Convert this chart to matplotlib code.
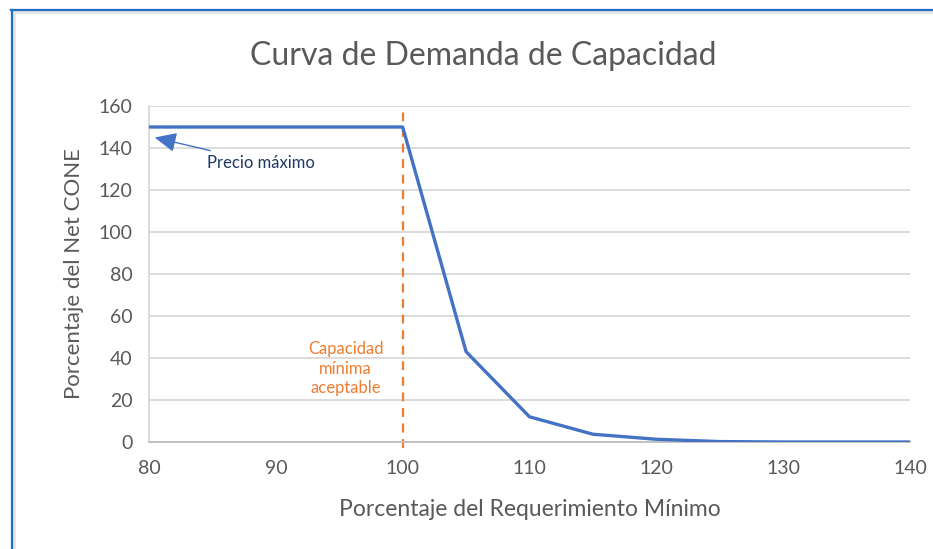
import matplotlib
matplotlib.use("Agg")
import matplotlib.pyplot as plt
from matplotlib.lines import Line2D

plt.rcParams["font.family"] = ["Lato", "DejaVu Sans"]

# Curva de demanda: % del requerimiento mínimo vs % del Net CONE
x_req = [80, 100, 105, 110, 115, 120, 125, 130, 135, 140]
y_cone = [150, 150, 43, 12, 3.7, 1.3, 0.2, 0, 0, 0]
x_ticks = [80, 90, 100, 110, 120, 130, 140]
y_ticks = [0, 20, 40, 60, 80, 100, 120, 140, 160]
cap_min = 100
precio_max = 150

gris = "#595959"
azul = "#4472C4"
naranja = "#ED7D31"

fig = plt.figure(figsize=(9.33, 5.49), dpi=100)
ax = fig.add_axes([149 / 933, 1 - 442 / 549, (910 - 149) / 933, (442 - 106) / 549])

ax.plot(x_req, y_cone, color=azul, linewidth=2.4, solid_joinstyle="round", zorder=3)
ax.plot([cap_min, cap_min], [-3, 160], color=naranja, linewidth=1.6,
        linestyle=(0, (4, 3)), clip_on=False, zorder=2)

ax.set_xlim(80, 140)
ax.set_ylim(0, 160)
ax.set_xticks(x_ticks)
ax.set_yticks(y_ticks)
ax.tick_params(length=0, labelsize=14, colors=gris)
ax.tick_params(axis="x", pad=13)
ax.tick_params(axis="y", pad=12)
ax.grid(axis="y", color="#d9d9d9", linewidth=1.3)
ax.set_axisbelow(True)
for side in ["top", "right"]:
    ax.spines[side].set_visible(False)
ax.spines["left"].set_color("#d9d9d9")
ax.spines["bottom"].set_color("#bfbfbf")
ax.spines["left"].set_linewidth(1.3)
ax.spines["bottom"].set_linewidth(1.3)

ax.set_xlabel("Porcentaje del Requerimiento Mínimo", fontsize=16.5, color=gris, labelpad=16)
ax.set_ylabel("Porcentaje del Net CONE", fontsize=16, color=gris, labelpad=10)
fig.text(483 / 933, 1 - 56 / 549, "Curva de Demanda de Capacidad", fontsize=23,
         color=gris, ha="center", va="center")

ax.annotate("Precio máximo", xy=(80.45, precio_max - 5), xytext=(84.6, precio_max - 17),
            fontsize=12, color="#1F3864", va="center", ha="left",
            arrowprops=dict(arrowstyle="-|>,head_length=1.1,head_width=0.5",
                            color=azul, linewidth=1.0, shrinkA=4, shrinkB=0))
ax.text(cap_min - 4.5, 35, "Capacidad\nmínima\naceptable", fontsize=12, color=naranja,
        ha="center", va="center", linespacing=1.25)

# marco del recuadro
fig.add_artist(Line2D([12 / 933, 1], [1 - 12 / 549] * 2, color="#e3e3e3", linewidth=2))
fig.add_artist(Line2D([14 / 933] * 2, [0, 1 - 12 / 549], color="#e3e3e3", linewidth=2))
fig.add_artist(Line2D([11 / 933, 1], [1 - 10 / 549] * 2, color="#1f6fc4", linewidth=1.6))
fig.add_artist(Line2D([12 / 933] * 2, [0, 1 - 10 / 549], color="#1f6fc4", linewidth=1.6))

fig.savefig("out.png", dpi=100)
